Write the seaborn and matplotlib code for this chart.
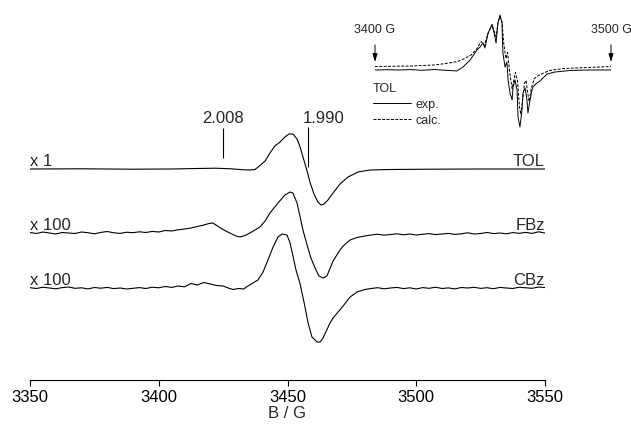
import matplotlib
matplotlib.use("Agg")
import matplotlib.pyplot as plt
import seaborn as sns

# ---- data (field in G, signal in arbitrary units) ----
tol_field = [3350, 3370, 3390, 3405, 3415, 3422, 3428, 3433, 3435.4, 3437.4,
             3439.3, 3441.3, 3443.2, 3445.1, 3447.1, 3449.0, 3450.6, 3452.1, 3453.7, 3454.9,
             3456.0, 3457.6, 3458.7, 3460.3, 3461.8, 3463.0, 3464.2, 3465.7, 3467.7, 3470.4,
             3473.5, 3477.4, 3482, 3490, 3505, 3525, 3550]
tol_signal = [0.0, 0.2, -0.2, 0.0, 0.5, 0.8, 0.2, -0.8, -1.0, -0.5,
              3.5, 8, 16, 23, 27, 32, 35, 35, 30, 22,
              12, -2, -13, -25, -33, -36, -35, -31, -24, -15,
              -8, -3, -1, -0.5, -0.2, 0.0, 0.0]

fbz_field = [3350, 3352.5, 3355, 3357.5, 3360, 3362.5, 3365, 3367.5, 3370, 3372.5,
             3375, 3377.5, 3380, 3382.5, 3385, 3387.5, 3390, 3392.5, 3395, 3397.5,
             3400, 3402.5, 3405, 3407.5, 3410,
             3412.5, 3415, 3417.5, 3419.5, 3421, 3422.5, 3424, 3426, 3428, 3430,
             3431.6, 3433.5, 3435.4, 3437.4, 3439.3, 3441.3, 3443.2, 3446.3, 3449.0, 3451.0,
             3452.1, 3453.7, 3454.9, 3456.0, 3457.6, 3459.1, 3460.7, 3462.2, 3463.8, 3465.3,
             3467.7, 3470.4, 3471.6, 3474.3, 3477.0, 3480.0,
             3482.5, 3485, 3487.5, 3490, 3492.5, 3495, 3497.5, 3500, 3502.5, 3505,
             3507.5, 3510, 3512.5, 3515, 3517.5, 3520, 3522.5, 3525, 3527.5, 3530,
             3532.5, 3535, 3537.5, 3540, 3542.5, 3545, 3547.5, 3550]
fbz_signal = [0.5, -0.5, 1.0, 0.0, -1.0, 0.5, 0.0, -0.5, 1.0, 0.3,
              -0.8, 0.6, 1.5, 0.2, -0.4, 0.8, 0.3, 1.2, 0.5, 1.6,
              1.0, 2.5, 2.0, 3.2, 4.0,
              5.0, 6.5, 8.0, 9.5, 10.0, 7.5, 5.0, 2.0, -0.5, -3.0,
              -4.0, -2.5, 0.0, 3.0, 6.0, 12, 20, 30, 38, 41,
              40, 30, 16, 3, -12, -25, -35, -43, -45, -43,
              -28, -17, -13, -7, -4.5, -3.0,
              -2.0, -1.2, -2.2, -1.5, -0.8, -1.8, -1.0, -2.0, -1.3, -0.6,
              -1.6, -1.0, -0.4, -1.4, -0.8, 0.2, -1.0, -0.5, 0.5, -0.6,
              0.0, -0.8, 0.4, -0.3, 0.6, -0.4, 1.2, 0.0]

cbz_field = [3350, 3352.5, 3355, 3357.5, 3360, 3362.5, 3365, 3367.5, 3370, 3372.5,
             3375, 3377.5, 3380, 3382.5, 3385, 3387.5, 3390, 3392.5, 3395, 3397.5,
             3400, 3402.5, 3405, 3407.5, 3410, 3412.5, 3415, 3417.5, 3420, 3422.5,
             3425, 3427.5, 3429, 3431, 3433, 3434.3, 3436.6, 3438.5, 3440.5, 3442.4,
             3444.4, 3446.3, 3447.9, 3449.8, 3451.0, 3451.7, 3453.3, 3454.9, 3456.8, 3458.0,
             3459.5, 3461.5, 3462.6, 3463.8, 3466.5, 3467.7, 3471.6, 3474.3, 3477.0, 3480.0,
             3482.5, 3485, 3487.5, 3490, 3492.5, 3495, 3497.5, 3500, 3502.5, 3505,
             3507.5, 3510, 3512.5, 3515, 3517.5, 3520, 3522.5, 3525, 3527.5, 3530,
             3532.5, 3535, 3537.5, 3540, 3542.5, 3545, 3547.5, 3550]
cbz_signal = [0.3, -0.5, 0.8, 0.0, -0.8, 0.4, 1.0, -0.3, 0.2, -0.9,
              0.5, -0.2, 0.6, -0.6, 0.0, -1.0, -0.3, 0.4, -0.5, 0.8,
              0.2, 1.5, 0.6, 2.0, 1.2, 4.5, 3.0, 5.5, 4.0, 2.5,
              2.0, -0.5, -1.5, -0.5, -1.0, 1.5, 5, 8, 16, 28,
              41, 51, 54, 53, 45, 37, 18, 4, -19, -35,
              -49, -54, -54, -50, -35, -30, -18, -9, -4, -1.5,
              -0.5, 0.3, -0.8, 0.0, 0.6, -0.6, 0.2, -1.0, 0.4, -0.3,
              0.8, -0.5, 0.1, -0.9, 0.5, 0.0, 0.7, -0.4, 0.3, -0.7,
              0.6, 0.0, -0.5, 0.8, 0.2, -0.3, 1.0, 0.4]

# inset: experimental vs calculated TOL spectrum
exp_field = [3400, 3405, 3410, 3415, 3420, 3425, 3428, 3431.8, 3434.7, 3437.3,
             3440.3, 3443.2, 3444.5, 3445.8, 3446.6, 3447.9, 3449.6, 3450.4, 3451.3, 3452.1,
             3453.0, 3453.8, 3454.2, 3455.1, 3455.9, 3456.4, 3457.2, 3458.1, 3458.5, 3459.3,
             3460.2, 3460.6, 3461.4, 3462.3, 3462.7, 3463.6, 3464.4, 3464.8, 3465.7, 3466.5,
             3466.9, 3468.6, 3469.9, 3472.9, 3476.3, 3482.6, 3490, 3500]
exp_signal = [0, 0.3, 0.0, 0.4, -0.3, 0.5, 0.0, -0.5, -1.0, 3,
              10, 20, 23, 27, 22, 37, 45, 38, 27, 47,
              55, 47, 17, 3, 8, -10, -23, -30, -17, -10,
              -20, -47, -57, -40, -23, -18, -30, -43, -30, -20,
              -17, -13, -11, -4, -2, -0.5, 0, 0]

calc_field = [3400, 3415, 3425, 3430, 3435, 3438, 3441, 3443.5, 3445, 3446.3,
              3447.9, 3449.6, 3450.4, 3451.3, 3452.1, 3453.0, 3453.8, 3454.6, 3455.5, 3456.2,
              3457.0, 3458.1, 3458.8, 3459.5, 3460.4, 3461.2, 3461.8, 3462.6, 3463.3, 3464.0,
              3464.6, 3465.3, 3466.2, 3467.5, 3470, 3474, 3480, 3490, 3500]
calc_signal = [0, 0.5, 1.5, 3, 5, 8, 12, 19, 25, 21,
               33, 42, 36, 30, 44, 50, 45, 22, 8, 14,
               -5, -22, -14, -6, -15, -40, -48, -33, -17, -14,
               -25, -35, -22, -12, -8, -4, -2, -1, 0]

trace_names = ["TOL", "FBz", "CBz"]
gains = ["x 1", "x 100", "x 100"]
g_values = ["2.008", "1.990"]
g_fields = [3425, 3458]

# ---- figure ----
sns.set_theme(style="ticks")
plt.rcParams['font.family'] = ['Liberation Sans', 'DejaVu Sans']
W, H = 631, 426
fig = plt.figure(figsize=(W / 100, H / 100), dpi=100)

# main axes: y units are screen pixels measured downward (negated)
ax = fig.add_axes([30 / W, (H - 380) / H, 515 / W, 380 / H])
ax.set_xlim(3350, 3550)
ax.set_ylim(-380, 0)
ax.patch.set_visible(False)

lw = 0.8
offsets = [-169, -233, -288]
fields = [tol_field, fbz_field, cbz_field]
signals = [tol_signal, fbz_signal, cbz_signal]
for name, gain, off, f, s in zip(trace_names, gains, offsets, fields, signals):
    sns.lineplot(x=f, y=[v + off for v in s], ax=ax, color='black', lw=lw,
                 estimator=None, sort=False)
    ax.text(3350, off + 3, gain, ha='left', va='baseline', fontsize=12)
    ax.text(3550, off + 3, name, ha='right', va='baseline', fontsize=12)

# g-value markers
ax.vlines(g_fields[0], -158, -128, color='black', lw=lw)
ax.text(g_fields[0], -123, g_values[0], ha='center', va='baseline', fontsize=12)
ax.vlines(g_fields[1], -167, -127, color='black', lw=lw)
ax.text(g_fields[1] + 6, -123, g_values[1], ha='center', va='baseline', fontsize=12)

ax.set_xticks([3350, 3400, 3450, 3500, 3550])
ax.set_yticks([])
ax.tick_params(axis='x', direction='out', length=4, width=0.8, pad=3,
               labelsize=12, colors='black')
for side in ['left', 'right', 'top']:
    ax.spines[side].set_visible(False)
ax.spines['bottom'].set_linewidth(0.8)
ax.spines['bottom'].set_color('black')
ax.set_xlabel('B / G', fontsize=12, labelpad=1)
ax.set_ylabel('')

# inset
axi = fig.add_axes([375 / W, (H - 135) / H, 236 / W, 135 / H])
axi.set_xlim(3400, 3500)
axi.set_ylim(-135, 0)
axi.axis('off')
sns.lineplot(x=exp_field, y=[v - 70 for v in exp_signal], ax=axi, color='black',
             lw=0.7, estimator=None, sort=False, label='exp.')
sns.lineplot(x=calc_field, y=[v - 66.5 for v in calc_signal], ax=axi, color='black',
             lw=0.7, ls=(0, (3, 1.5)), estimator=None, sort=False, label='calc.')
for fld in [3400, 3500]:
    axi.annotate('', xy=(fld, -62), xytext=(fld, -45),
                 arrowprops=dict(arrowstyle='-|>,head_length=0.4,head_width=0.12',
                                 color='black', lw=0.7, shrinkA=0, shrinkB=0))
    axi.text(fld, -30, f'{fld} G', ha='center', va='center', fontsize=9)
leg = axi.legend(title='TOL', loc='upper left', bbox_to_anchor=(373 / W, 1 - 83 / H),
                 bbox_transform=fig.transFigure, frameon=False, fontsize=9,
                 title_fontsize=9, alignment='left', handlelength=3.0,
                 handletextpad=0.4, labelspacing=0.3, borderpad=0, borderaxespad=0)

fig.savefig('out.png', dpi=100)
